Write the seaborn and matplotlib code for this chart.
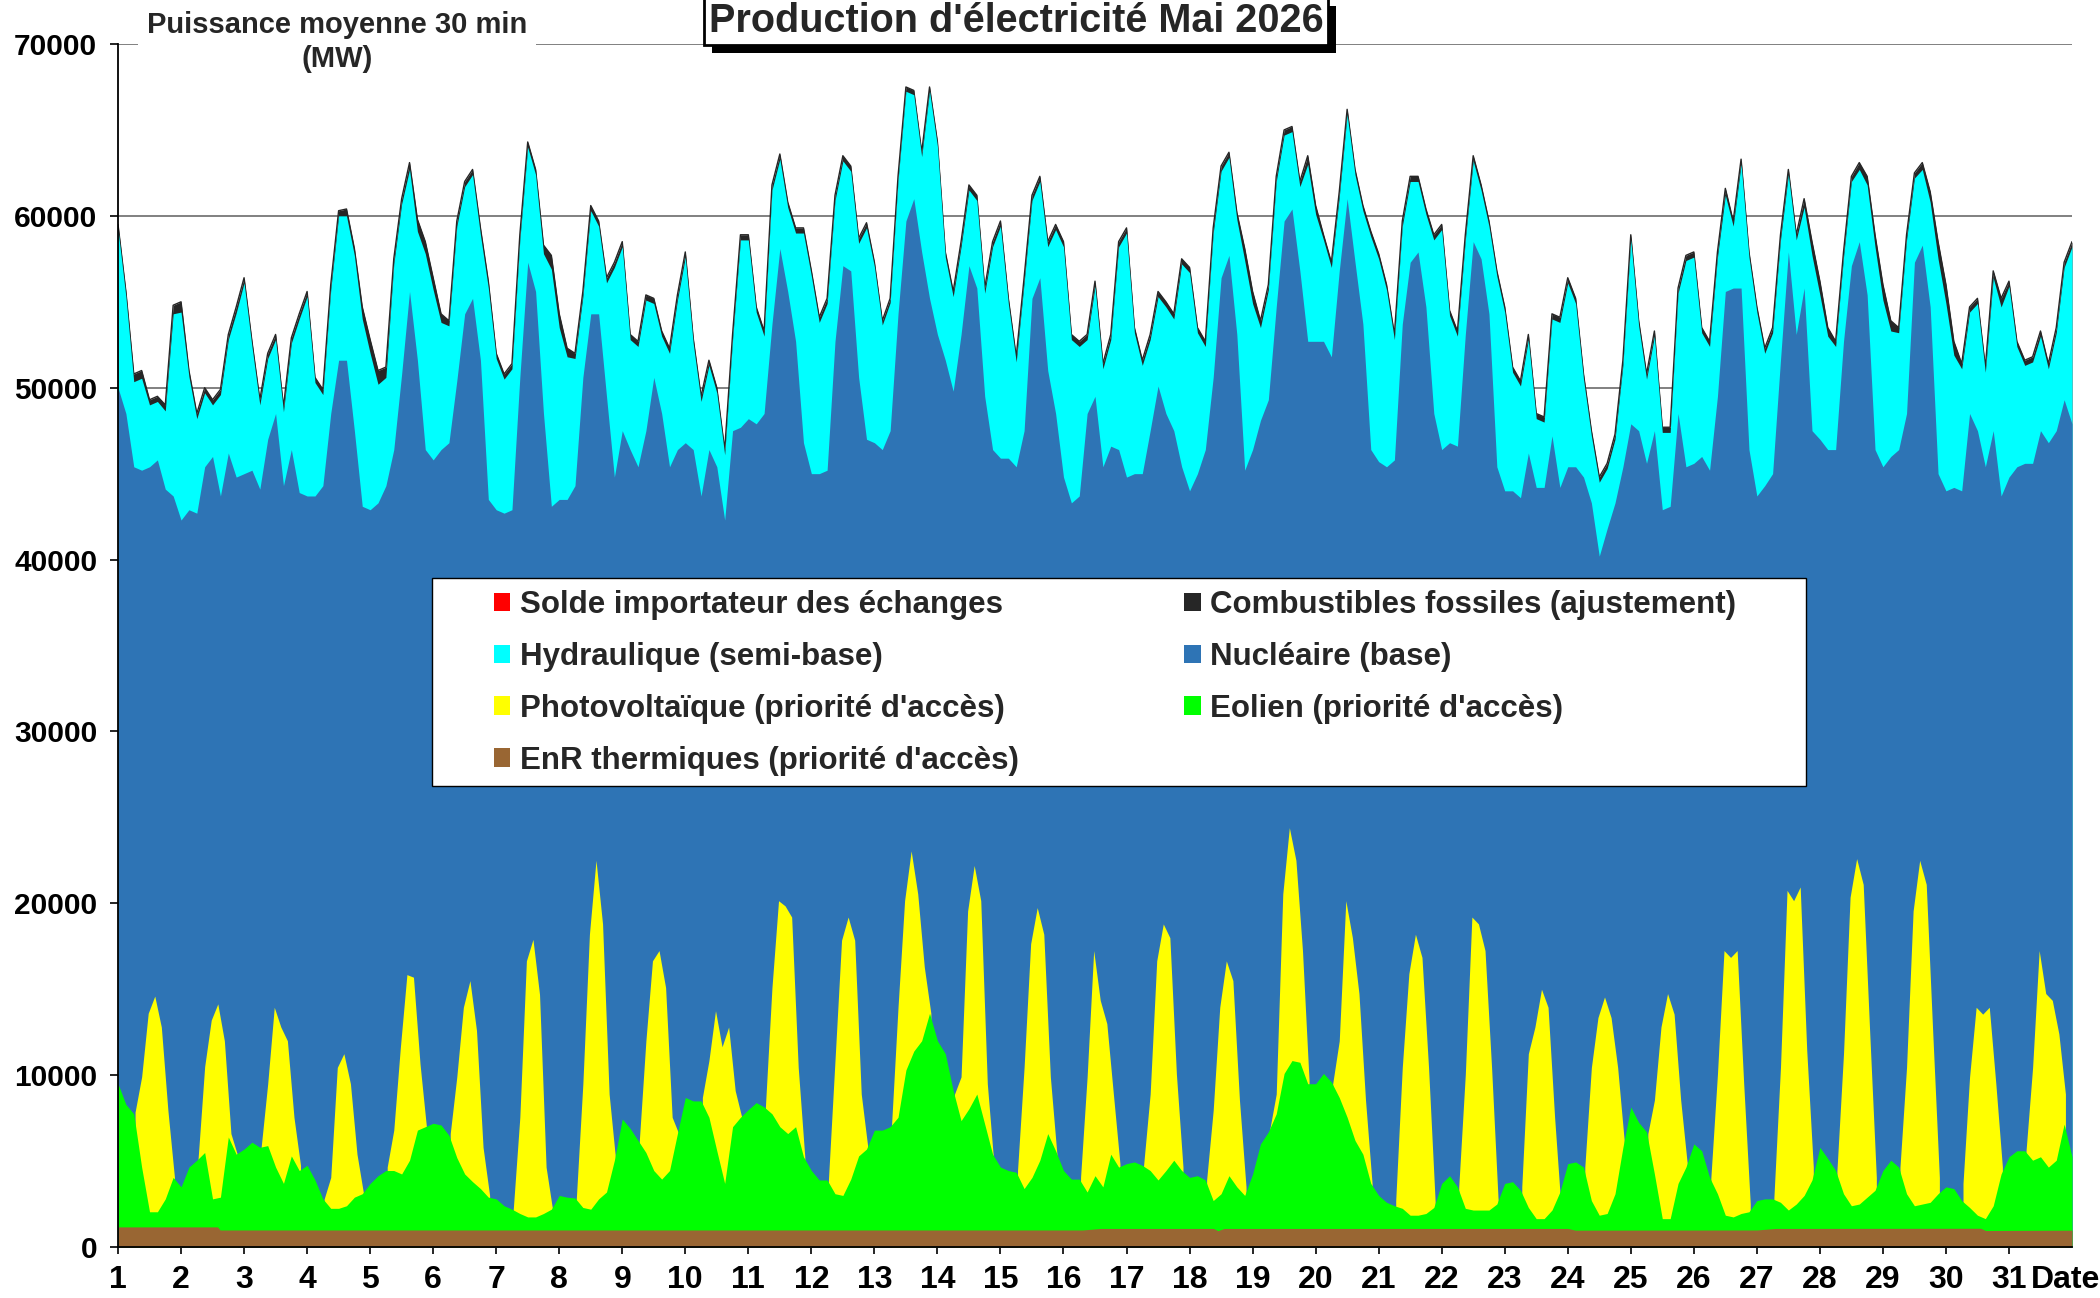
import numpy as np
import pandas as pd
import matplotlib
matplotlib.use("Agg")
import matplotlib.pyplot as plt
import seaborn as sns
from matplotlib import patheffects
from matplotlib.patches import Patch, Rectangle

sns.set_theme(style="ticks")
plt.rcParams["font.family"] = ["Liberation Sans", "DejaVu Sans"]
plt.rcParams["font.weight"] = "bold"

# ---------------- data (MW) ----------------
# 3-hourly samples per day at 0h,3h,...,21h ; cumulative upper edges of the stacked areas
HOURS_3H = [0, 3, 6, 9, 12, 15, 18, 21]

total_top = [
    [59500, 55600, 50800, 51000, 49300, 49500, 49000, 54800],
    [55000, 51000, 48500, 50000, 49300, 49900, 53100, 54700],
    [56400, 52700, 49300, 52000, 53100, 48900, 52900, 54300],
    [55600, 50600, 49900, 56000, 60300, 60400, 58100, 54700],
    [52800, 51000, 51200, 57500, 61000, 63100, 59800, 58500],
    [56400, 54300, 53900, 59700, 62000, 62700, 59300, 56200],
    [52000, 50800, 51400, 58900, 64300, 62700, 58300, 57700],
    [54300, 52300, 52000, 55600, 60600, 59700, 56400, 57300],
    [58500, 53100, 52700, 55400, 55200, 53300, 52300, 55400],
    [57900, 52900, 49500, 51600, 50000, 46400, 53100, 58900],
    [58900, 54700, 53300, 61800, 63600, 60800, 59300, 59300],
    [56800, 54100, 55200, 61200, 63500, 62900, 58700, 59600],
    [57300, 53900, 55200, 62300, 67500, 67300, 63700, 67500],
    [64300, 57900, 55600, 58500, 61800, 61200, 55800, 58500],
    [59700, 55200, 51800, 56400, 61200, 62300, 58500, 59500],
    [58500, 53100, 52700, 53100, 56200, 51400, 53100, 58500],
    [59300, 53500, 51600, 53100, 55600, 55000, 54300, 57500],
    [57000, 53500, 52700, 59300, 62900, 63700, 60200, 58100],
    [55600, 53900, 56000, 62300, 65000, 65200, 62000, 63500],
    [60600, 58900, 57300, 61400, 66200, 62700, 60600, 59100],
    [57800, 56000, 53100, 59700, 62300, 62300, 60400, 58900],
    [59500, 54500, 53300, 58900, 63500, 61800, 59700, 56800],
    [54700, 51200, 50400, 53100, 48500, 48300, 54300, 54100],
    [56400, 55200, 50800, 47500, 44800, 45600, 47300, 51600],
    [58900, 53900, 50800, 53300, 47700, 47700, 55800, 57700],
    [57900, 53500, 52700, 57900, 61600, 59700, 63300, 57900],
    [54700, 52300, 53500, 58900, 62700, 58900, 61000, 58500],
    [56200, 53500, 52700, 57900, 62300, 63100, 62300, 58900],
    [56000, 53900, 53500, 58900, 62500, 63100, 61400, 58500],
    [56000, 52700, 51400, 54700, 55200, 51200, 56800, 55200],
    [56200, 52700, 51600, 51800, 53300, 51400, 53500, 57300],
]
total_end = 58500

fossil = [
    [300, 300, 450, 450, 300, 300, 350, 500],
    [600, 350, 300, 300, 300, 300, 300, 350],
    [300, 300, 300, 300, 300, 300, 300, 300],
    [300, 300, 300, 300, 300, 400, 400, 700],
    [800, 800, 600, 300, 300, 400, 700, 700],
    [700, 500, 300, 300, 300, 300, 400, 400],
    [300, 300, 300, 300, 300, 300, 500, 800],
    [800, 500, 300, 300, 300, 300, 300, 300],
    [300, 300, 300, 300, 300, 300, 300, 300],
    [300, 300, 300, 300, 300, 300, 300, 300],
    [300, 300, 300, 300, 300, 300, 300, 300],
    [300, 300, 300, 300, 300, 300, 300, 300],
    [250, 250, 250, 250, 250, 250, 250, 250],
    [250, 300, 300, 300, 300, 300, 300, 300],
    [300, 300, 300, 300, 300, 300, 300, 300],
    [300, 300, 300, 300, 300, 300, 300, 300],
    [300, 300, 300, 300, 300, 300, 300, 300],
    [300, 300, 300, 300, 300, 300, 400, 700],
    [700, 400, 300, 300, 300, 300, 300, 500],
    [500, 300, 300, 300, 300, 300, 300, 300],
    [300, 300, 300, 300, 300, 300, 300, 300],
    [300, 300, 300, 300, 300, 300, 300, 300],
    [300, 300, 300, 300, 300, 300, 300, 300],
    [300, 300, 300, 300, 300, 300, 300, 300],
    [300, 300, 300, 300, 300, 300, 300, 300],
    [300, 300, 300, 300, 400, 300, 300, 300],
    [300, 300, 300, 300, 300, 300, 500, 800],
    [800, 500, 300, 300, 300, 400, 500, 700],
    [900, 600, 300, 300, 300, 400, 600, 1000],
    [1100, 800, 300, 300, 300, 300, 400, 500],
    [300, 300, 300, 300, 300, 300, 300, 300],
]
fossil_end = 300

nuclear_top = [
    [50000, 48500, 45400, 45200, 45400, 45800, 44100, 43700],
    [42300, 42900, 42700, 45400, 46000, 43700, 46200, 44800],
    [45000, 45200, 44100, 47000, 48500, 44300, 46400, 43900],
    [43700, 43700, 44300, 48500, 51600, 51600, 47500, 43100],
    [42900, 43300, 44300, 46400, 50800, 55600, 51600, 46400],
    [45800, 46400, 46800, 50400, 54300, 55200, 51600, 43500],
    [42900, 42700, 42900, 50600, 57300, 55600, 48500, 43100],
    [43500, 43500, 44300, 50600, 54300, 54300, 49500, 44800],
    [47500, 46400, 45400, 47500, 50600, 48500, 45400, 46400],
    [46800, 46400, 43700, 46400, 45400, 42300, 47500, 47700],
    [48200, 47900, 48500, 53700, 58100, 55600, 52700, 46800],
    [45000, 45000, 45200, 52700, 57100, 56800, 50600, 47000],
    [46800, 46400, 47500, 54300, 59700, 61000, 57900, 55200],
    [53100, 51600, 49800, 53100, 57100, 55800, 49500, 46400],
    [45900, 45900, 45400, 47500, 55200, 56400, 51000, 48500],
    [44800, 43300, 43700, 48500, 49500, 45400, 46600, 46400],
    [44800, 45000, 45000, 47500, 50100, 48500, 47500, 45400],
    [44000, 45000, 46400, 50600, 56400, 57700, 53100, 45200],
    [46400, 48100, 49300, 54700, 59700, 60400, 56800, 52700],
    [52700, 52700, 51800, 56800, 61000, 57300, 53700, 46400],
    [45700, 45400, 45800, 53700, 57300, 57900, 54700, 48500],
    [46400, 46800, 46600, 53100, 58500, 57500, 54300, 45400],
    [44000, 44000, 43600, 46200, 44200, 44200, 47200, 44200],
    [45400, 45400, 44800, 43300, 40200, 41800, 43300, 45400],
    [47900, 47500, 45600, 47500, 42900, 43100, 48500, 45400],
    [45600, 46000, 45200, 49500, 55600, 55800, 55800, 46400],
    [43700, 44300, 45000, 51600, 57900, 53100, 55800, 47500],
    [47000, 46400, 46400, 52700, 57100, 58500, 55400, 46400],
    [45400, 46000, 46400, 48500, 57300, 58300, 54700, 45000],
    [44000, 44200, 44000, 48500, 47500, 45400, 47500, 43700],
    [44800, 45400, 45600, 45600, 47500, 46800, 47500, 49300],
]
nuclear_end = 47900

wind_top = [
    [9500, 8300, 7750, 4650, 2050, 2050, 2800, 4050],
    [3500, 4650, 5050, 5500, 2800, 2900, 6400, 5400],
    [5700, 6100, 5800, 5900, 4650, 3700, 5300, 4450],
    [4750, 3900, 2800, 2250, 2250, 2400, 2900, 3100],
    [3700, 4150, 4450, 4450, 4250, 5050, 6800, 7000],
    [7200, 7100, 6500, 5200, 4250, 3800, 3400, 2900],
    [2800, 2400, 2200, 1950, 1750, 1750, 1950, 2200],
    [3000, 2900, 2850, 2300, 2200, 2800, 3200, 5050],
    [7450, 6900, 6200, 5500, 4450, 3950, 4450, 6600],
    [8700, 8500, 8500, 7550, 5600, 3700, 7000, 7550],
    [8000, 8400, 8150, 7750, 7000, 6600, 7000, 5250],
    [4450, 3900, 3900, 3100, 3000, 3950, 5300, 5700],
    [6800, 6800, 7000, 7550, 10300, 11400, 12000, 13600],
    [12000, 11250, 9100, 7350, 8050, 8900, 7150, 5400],
    [4650, 4450, 4350, 3400, 4050, 5050, 6600, 5600],
    [4450, 3950, 3950, 3200, 4150, 3500, 5400, 4650],
    [4850, 4950, 4750, 4450, 3900, 4450, 5050, 4450],
    [4050, 4150, 3900, 2700, 3100, 4150, 3500, 3000],
    [4250, 6000, 6700, 7750, 10100, 10850, 10750, 9500],
    [9500, 10100, 9600, 8700, 7550, 6200, 5400, 3700],
    [3000, 2600, 2400, 2250, 1850, 1850, 1950, 2300],
    [3700, 4150, 3500, 2250, 2150, 2150, 2150, 2500],
    [3700, 3800, 3300, 2300, 1650, 1650, 2150, 3200],
    [4850, 4950, 4650, 2700, 1850, 1950, 3100, 5800],
    [8150, 7250, 6700, 4250, 1650, 1650, 3700, 4650],
    [6000, 5600, 4050, 3100, 1850, 1750, 1950, 2050],
    [2700, 2800, 2800, 2600, 2150, 2500, 3000, 3900],
    [5800, 5150, 4450, 3100, 2400, 2500, 2900, 3300],
    [4450, 5050, 4650, 3100, 2400, 2500, 2600, 3100],
    [3500, 3400, 2700, 2300, 1850, 1650, 2400, 4250],
    [5250, 5600, 5600, 5050, 5250, 4650, 5050, 7150],
]
wind_end = 5250

# photovoltaic upper edge, daytime samples at these hours
PV_HOURS = [6.5, 9, 11.5, 14, 16.5, 19, 21.5]
pv_top = [
    [7850, 9900, 13600, 14600, 12800, 7950, 4050],
    [5150, 10500, 13200, 14150, 12000, 6600, 5350],
    [5800, 9500, 13950, 12800, 12000, 7550, 4750],
    [2800, 4050, 10450, 11250, 9500, 5400, 3100],
    [4650, 6800, 11600, 15850, 15700, 10650, 6900],
    [6600, 9900, 13950, 15500, 12600, 5800, 3000],
    [2200, 7550, 16650, 17900, 14700, 4650, 2150],
    [2800, 9500, 18200, 22500, 18800, 8900, 5050],
    [6200, 12000, 16650, 17250, 15100, 7550, 6600],
    [8700, 10850, 13750, 11650, 12800, 9100, 7550],
    [8150, 15100, 20150, 19850, 19200, 10450, 5250],
    [3900, 10850, 17850, 19200, 17850, 8900, 5800],
    [7000, 13950, 20150, 23050, 20550, 16300, 13600],
    [8900, 9900, 19550, 22200, 20150, 9500, 4850],
    [4450, 10450, 17650, 19750, 18200, 9900, 5400],
    [4050, 9900, 17250, 14350, 13000, 8900, 4850],
    [4750, 8900, 16650, 18800, 18000, 10050, 4650],
    [3900, 7950, 13950, 16650, 15500, 8550, 3500],
    [6800, 8900, 20550, 24400, 22500, 17250, 9700],
    [9500, 12000, 20150, 18000, 14750, 8550, 3700],
    [2700, 10450, 15900, 18200, 16850, 10450, 2700],
    [3500, 10050, 19200, 18800, 17250, 10450, 2700],
    [3500, 11250, 12800, 15000, 13950, 7550, 2150],
    [4650, 10450, 13350, 14550, 13350, 10450, 6200],
    [6600, 8550, 12800, 14750, 13550, 8550, 4850],
    [4050, 10050, 17250, 16850, 17250, 9500, 2500],
    [2900, 10450, 20750, 20150, 20950, 11450, 4650],
    [4450, 11250, 20350, 22600, 21100, 12400, 4050],
    [4650, 10450, 19550, 22500, 21100, 12400, 4050],
    [3700, 9900, 13950, 13550, 13950, 9500, 4650],
    [5600, 10450, 17250, 14750, 14350, 12400, 8900],
]

# EnR thermiques (bottom layer), breakpoints in day units
thermal_t = [1, 2.58, 2.62, 16.3, 16.6, 18.38, 18.45, 18.55, 24.0, 24.12,
             27.0, 27.3, 30.55, 30.63, 32]
thermal_v = [1170, 1170, 990, 990, 1080, 1080, 950, 1080, 1080, 980,
             990, 1080, 1090, 960, 980]

day_labels = [str(d) for d in range(1, 32)]

series_labels = ["Solde importateur des échanges", "Hydraulique (semi-base)",
                 "Photovoltaïque (priorité d'accès)", "EnR thermiques (priorité d'accès)",
                 "Combustibles fossiles (ajustement)", "Nucléaire (base)",
                 "Eolien (priorité d'accès)"]

RED, CYAN, YELLOW, BROWN = "#FF0000", "#00FFFF", "#FFFF00", "#996633"
DARK, BLUE, GREEN = "#262626", "#2E74B5", "#00FF00"
series_colors = [RED, CYAN, YELLOW, BROWN, DARK, BLUE, GREEN]

# ---------------- build table ----------------
t = [1 + d + h / 24 for d in range(31) for h in HOURS_3H] + [32.0]
df = pd.DataFrame({
    "t": t,
    "total": np.concatenate(total_top + [[total_end]]),
    "fossil": np.concatenate(fossil + [[fossil_end]]),
    "nuclear_top": np.concatenate(nuclear_top + [[nuclear_end]]),
    "wind_top": np.concatenate(wind_top + [[wind_end]]),
})
df["hydro_top"] = df["total"] - df["fossil"]

# ---------------- figure ----------------
W, H = 2100, 1298
fig = plt.figure(figsize=(W / 100, H / 100), dpi=100)
x0, x1, yb, yt = 118, 2072, 1247, 44
ax = fig.add_axes([x0 / W, 1 - yb / H, (x1 - x0) / W, (yb - yt) / H])
ax.set_facecolor("white")

ax.fill_between(df["t"], 0, df["total"], color=DARK, lw=0, zorder=2)
sns.lineplot(data=df, x="t", y="total", ax=ax, color=DARK, lw=1.0, zorder=2.5)
ax.fill_between(df["t"], 0, df["hydro_top"], color=CYAN, lw=0, zorder=3)
ax.fill_between(df["t"], 0, df["nuclear_top"], color=BLUE, lw=0, zorder=4)
for d in range(31):
    tt = [1 + d + h / 24 for h in PV_HOURS]
    ax.fill_between(tt, 0, pv_top[d], color=YELLOW, lw=0, zorder=5)
ax.fill_between(df["t"], 0, df["wind_top"], color=GREEN, lw=0, zorder=6)
ax.fill_between(thermal_t, 0, thermal_v, color=BROWN, lw=0, zorder=7)

ax.set_xlim(1, 32)
ax.set_ylim(0, 70000)
ax.set_xlabel("")
ax.set_ylabel("")

yt_vals = list(range(0, 70001, 10000))
ax.set_yticks(yt_vals)
ax.set_yticklabels([str(v) for v in yt_vals])
ax.yaxis.grid(True, color="#808080", lw=1.4, zorder=1)
ax.xaxis.grid(False)
ax.set_axisbelow(True)

xt = list(range(1, 32)) + [31.9]
ax.set_xticks(xt)
ax.set_xticklabels(day_labels + ["Date"])
ax.xaxis.get_major_ticks()[-1].tick1line.set_visible(False)

ax.tick_params(axis="x", labelsize=23, length=5, width=1.2, pad=8, colors="black", direction="out")
ax.tick_params(axis="y", labelsize=21.5, length=6, width=1.2, pad=9, colors="black", direction="out")
for lab in ax.get_xticklabels() + ax.get_yticklabels():
    lab.set_fontweight("bold")

for s in ["top", "right"]:
    ax.spines[s].set_visible(False)
for s in ["left", "bottom"]:
    ax.spines[s].set_color("black")
    ax.spines[s].set_linewidth(1.3)
    ax.spines[s].set_zorder(10)

# legend with manual frame
frame = Rectangle((0.1607, 0.3832), 0.7032, 0.1729, transform=ax.transAxes,
                  facecolor="white", edgecolor="black", lw=1.0, zorder=20)
ax.add_patch(frame)
handles = [Patch(facecolor=c, edgecolor="none") for c in series_colors]
leg = ax.legend(handles, series_labels, ncol=2, loc="upper left",
                bbox_to_anchor=(0.1925, 0.5462), frameon=False,
                prop={"family": ["Liberation Sans", "DejaVu Sans"], "weight": "bold", "size": 22.5},
                handlelength=0.52, handleheight=0.52, handletextpad=0.3,
                labelspacing=0.70, columnspacing=5.3, borderpad=0, borderaxespad=0)
leg.set_zorder(21)

# y-axis title in white box
fig.text(337 / W, 1 - 42 / H, "Puissance moyenne 30 min\n(MW)", ha="center", va="center",
         fontsize=21, fontweight="bold", linespacing=1.25, zorder=30,
         bbox=dict(boxstyle="square,pad=0.3", facecolor="white", edgecolor="none"))

# title box with shadow
ttl = fig.text(1016 / W, 1 - 32 / H, "Production d'électricité Mai 2026", ha="center", va="baseline",
               fontsize=28.5, fontweight="bold", zorder=30,
               bbox=dict(boxstyle="square,pad=0.12", facecolor="white", edgecolor="black", lw=2))
ttl.get_bbox_patch().set_path_effects([
    patheffects.withSimplePatchShadow(offset=(6, -6), shadow_rgbFace="black", alpha=1.0)])

fig.savefig("out.png", dpi=100, facecolor="white")
